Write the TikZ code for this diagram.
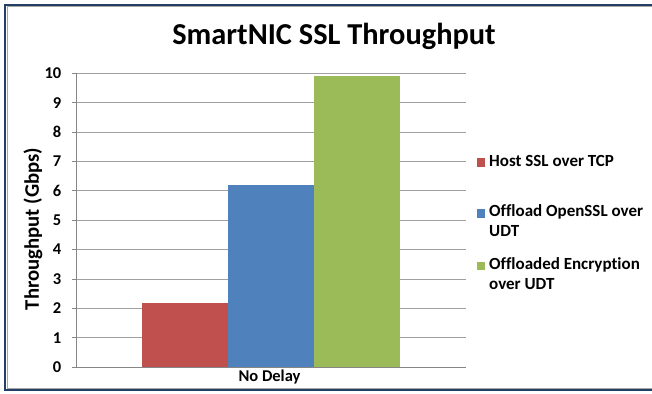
\documentclass[tikz,border=0pt]{standalone}
\usepackage{fontspec}
\setmainfont{Carlito}[Ligatures=NoCommon]
\definecolor{frameblue}{HTML}{243F66}
\definecolor{frameshade}{HTML}{A6A6A6}
\definecolor{gridgray}{HTML}{A0A0A0}
\definecolor{axisgray}{HTML}{868686}
\definecolor{barred}{HTML}{C0504D}
\definecolor{barblue}{HTML}{4F81BD}
\definecolor{bargreen}{HTML}{9BBB59}
\begin{document}
\begin{tikzpicture}[x=1pt,y=-1pt,
  ticklabel/.style={font=\bfseries\fontsize{16.5}{18}\selectfont, anchor=east, inner sep=0pt},
  legendtext/.style={font=\bfseries\fontsize{17}{20}\selectfont, anchor=base west, align=left, inner sep=0pt},
  legendkey/.style={minimum size=8.5pt, inner sep=0pt, draw=none}]
\useasboundingbox (0,0) rectangle (652,393);
% outer frame (open on the right)
\draw[frameshade, line width=1pt] (7,7) -- (652,7);
\draw[frameshade, line width=1pt] (7,7) -- (7,388);
\draw[frameshade, line width=1pt] (7,388) -- (652,388);
\draw[frameblue, line width=2pt] (4,5) -- (652,5);
\draw[frameblue, line width=2pt] (5,4) -- (5,391);
\draw[frameblue, line width=2pt] (4,390) -- (652,390);
% title
\node[font=\bfseries\fontsize{30.4}{34}\selectfont, inner sep=0pt, anchor=base] (title) at (334,45) {SmartNIC SSL Throughput};
% gridlines, ticks and labels
\foreach \v in {0,...,10} {
  \pgfmathsetmacro{\yy}{367-29.36*\v}
  \ifnum\v>0 \draw[gridgray, line width=0.8pt] (76.7,\yy) -- (466,\yy); \fi
  \draw[axisgray, line width=0.8pt] (71.5,\yy) -- (76.7,\yy);
  \node[ticklabel] (tick\v) at (61.5,\yy) {\v};
}
% bars
\fill[barred]   (141.7,367) rectangle (228.3,303.3);
\fill[barblue]  (228.3,367) rectangle (314.3,185.0);
\fill[bargreen] (314.3,367) rectangle (400.0,76.0);
% axes
\draw[axisgray, line width=0.8pt] (76.7,73.2) -- (76.7,367);
\draw[axisgray, line width=0.8pt] (76.7,367) -- (466,367);
% axis labels
\node[font=\bfseries\fontsize{16.5}{18}\selectfont, inner sep=0pt, anchor=base] (cat) at (269.5,381) {No Delay};
\node[font=\bfseries\fontsize{20.7}{24}\selectfont, rotate=90, inner sep=0pt] (ytitle) at (33,229) {Throughput (Gbps)};
% legend
\node[legendkey, fill=barred]   (k1) at (481,162.5) {};
\node[legendkey, fill=barblue]  (k2) at (481,213.5) {};
\node[legendkey, fill=bargreen] (k3) at (481,266) {};
\node[legendtext] (l1) at (489,166.7) {Host SSL over TCP};
\node[legendtext, anchor=north west] (l2) at (489,204.5) {Offload OpenSSL over\\UDT};
\node[legendtext, anchor=north west] (l3) at (489,257) {Offloaded Encryption\\over UDT};
\end{tikzpicture}
\end{document}
